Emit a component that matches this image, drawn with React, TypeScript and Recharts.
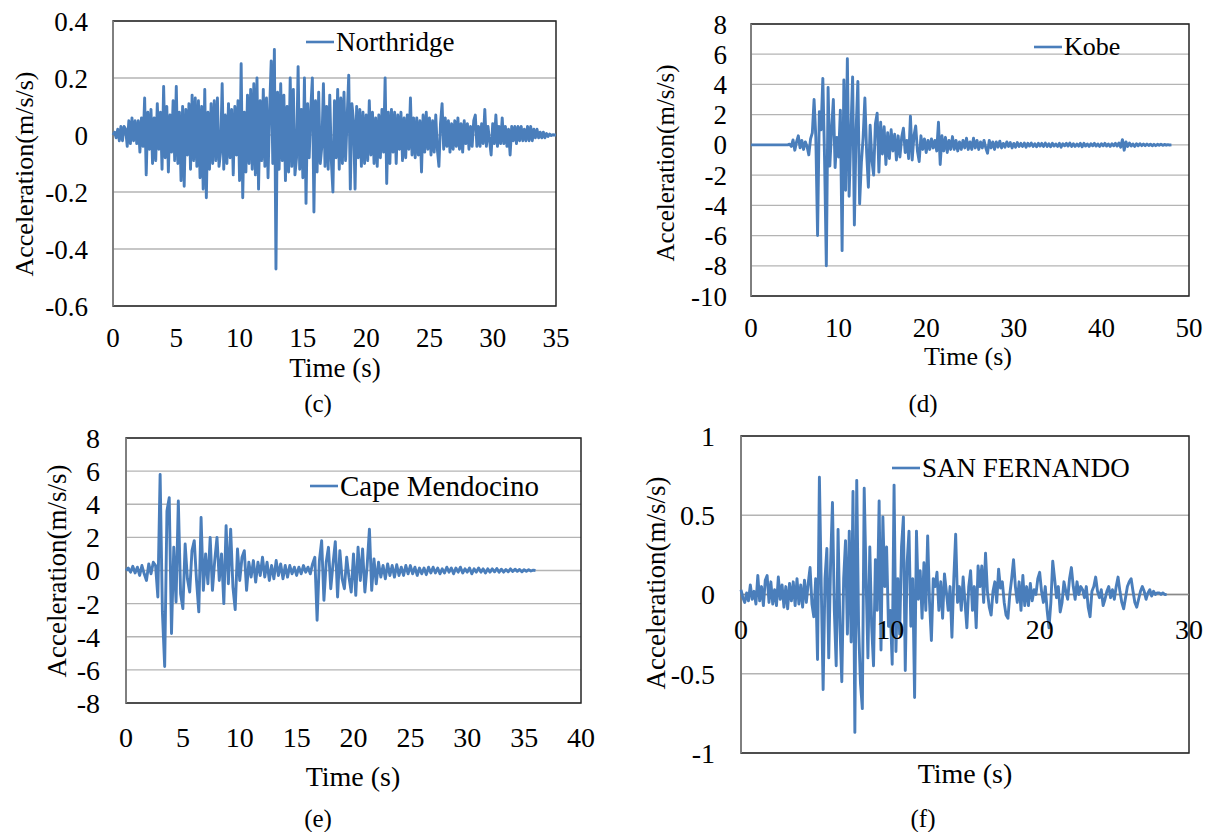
import {
  LineChart, Line, XAxis, YAxis, CartesianGrid, ReferenceArea, ReferenceLine, ReferenceDot, Legend,
} from 'recharts'

const SERIF = '"Liberation Serif", "Times New Roman", serif'
const BLUE = '#4a7ebb'

// (c) Northridge, one sample every 0.125 s, one row per second
const northridgeDt = 0.125
const northridgeAcc = [
  0, .01, -.01, .02, -.02, .03, -.02, .03,
  .02, -.04, .05, -.03, .06, -.02, .05, -.03,
  .05, -.06, .06, -.04, .13, -.14, .08, -.05,
  .09, -.10, .06, -.09, .11, -.05, .08, -.12,
  .17, -.08, .10, -.13, .07, -.06, .12, -.09,
  .17, -.10, .08, -.16, .10, -.18, .09, -.07,
  .11, -.12, .14, -.09, .13, -.11, .12, -.15,
  .10, -.19, .16, -.22, .08, -.12, .11, -.10,
  .12, -.09, .13, -.11, -.06, .18, -.12, .07,
  -.10, .11, -.08, .09, -.14, .10, -.07, .12,
  -.16, .25, -.22, .08, -.13, .14, -.10, .16,
  -.12, .18, -.14, .20, -.19, .12, -.09, .16,
  -.11, .13, -.15, .09, .26, -.10, .30, -.47,
  .15, -.12, .18, -.09, .14, -.16, .10, -.13,
  .20, -.11, .16, -.14, -.08, .24, -.12, .09,
  -.15, .20, -.24, .11, -.08, .09, .20, -.27,
  .12, -.13, .15, -.10, -.04, .18, -.11, .10,
  -.12, .14, -.09, -.20, .12, -.08, .16, -.12,
  .13, -.10, .15, -.09, .06, .21, -.19, .11,
  .05, -.19, .10, -.08, .09, -.11, .08, -.10,
  .07, -.09, .12, -.07, .08, -.10, .06, -.11,
  .07, -.08, .09, -.06, .20, -.17, .08, -.10,
  .09, -.06, .08, -.10, .07, -.05, .08, -.09,
  .06, -.08, .07, -.05, .13, -.07, .06, -.08,
  .06, -.07, .05, -.13, .07, -.06, .08, -.05,
  .06, -.07, .05, -.06, .07, -.05, -.11, .04,
  .11, -.05, .06, -.04, .05, -.06, .04, -.05,
  .05, -.04, .06, -.05, .04, -.06, .05, -.03,
  .04, -.05, .03, -.04, .05, .07, -.04, .03,
  -.04, .04, -.03, .09, -.04, .03, -.02, -.07,
  .04, -.03, .07, -.04, .03, -.03, .06, -.03,
  .03, -.04, .02, -.07, .03, -.02, .03, -.03,
  .03, -.02, .03, -.02, .02, -.02, .03, -.02,
  .03, -.02, .02, -.01, .02, -.01, .01, -.01,
  .01, -.01, .005, -.005, .003, -.002, .001, 0,
  0,
]
const northridgeTimeTicks = [0, 5, 10, 15, 20, 25, 30, 35]
const northridgeAccTicks = [-0.6, -0.4, -0.2, 0, 0.2, 0.4]

// (d) Kobe, one sample every 0.2 s
const kobeDt = 0.2
const kobeAcc = [
  0, 0, 0, 0, 0,
  0, 0, 0, 0, 0,
  0, 0, 0, 0, 0,
  0, 0, 0, 0, 0,
  0, 0, .05, -.1, .33,
  -.35, .2, .6, -.2, .3,
  -.3, .2, -.1, -.66, .4,
  .8, 3.0, .5, -6.0, 2.2,
  1.0, 4.4, -1.0, -8.0, 3.8,
  -1.4, 1.0, 3.0, -1.5, .5,
  -.8, 2.3, -7.0, 4.3, -3.0,
  5.7, -3.4, .8, 4.5, -5.3,
  1.0, 4.2, -3.9, -1.2, .5,
  3.1, -.5, -2.8, 1.3, -1.0,
  -2.0, 1.4, 2.1, -1.8, 1.5,
  -.6, 1.2, -1.3, .8, -.9,
  1.0, -.4, .7, -1.0, .6,
  -.8, .5, 1.1, -.5, .3,
  -.9, 1.9, -1.0, .6, 1.25,
  -.4, -1.1, .6, -.3, .4,
  -.5, .3, -.3, .4, -.2,
  .3, -.4, 1.5, -1.3, .6,
  -.4, .5, -.5, .3, -.3,
  .55, -.3, .3, -.4, .2,
  -.3, .3, -.2, .44, -.3,
  .2, -.3, .44, -.2, .3,
  -.3, .2, -.2, .3, -.2,
  -.55, .3, -.2, .2, -.3,
  .2, -.15, .25, -.2, .1,
  -.15, .2, -.1, .15, -.2,
  .1, -.15, .15, -.1, .1,
  -.1, .12, -.15, .1, -.08,
  .12, -.1, .08, -.12, .1,
  -.08, .1, -.1, .12, -.1,
  .08, -.12, .1, -.08, .06,
  -.1, .1, -.15, .08, -.06,
  .1, -.08, .12, -.1, .08,
  -.1, .06, -.08, .1, -.12,
  .1, -.08, .06, -.1, .08,
  -.06, .1, -.08, .06, -.1,
  .08, -.06, .1, -.08, .06,
  -.1, .08, -.06, .1, -.08,
  .12, -.15, .35, -.35, .2,
  -.1, .12, -.08, .06, -.1,
  .08, -.06, .08, -.05, .06,
  -.05, .06, -.04, .05, -.06,
  .04, -.05, .04, -.03, .04,
  -.03, .03, -.02, .02, -.01,
  0,
]
const kobeTimeTicks = [0, 10, 20, 30, 40, 50]
const kobeAccTicks = [-10, -8, -6, -4, -2, 0, 2, 4, 6, 8]

// (e) Cape Mendocino, one sample every 0.2 s
const capeDt = 0.2
const capeAcc = [
  0, .15, -.1, .25, -.15,
  .2, -.3, .3, -.2, -.6,
  .4, -.2, .5, .3, -1.6,
  5.8, -2.5, -5.8, 3.6, 4.4,
  -3.8, 1.4, -1.9, 4.2, -1.4,
  -2.3, 1.6, -.5, -1.3, 1.2,
  1.8, -.6, -2.5, 3.2, -1.2,
  1.0, -.8, 2.0, -1.2, .6,
  2.0, -.6, 1.0, -2.0, 2.7,
  -.8, 2.5, -1.0, -2.36, 1.3,
  -.6, .8, 1.2, -1.2, .5,
  -.4, .6, -.7, .5, -.3,
  .8, -.4, .5, -.6, .3,
  -.5, .6, -.3, .4, -.5,
  .3, -.4, .3, -.2, .2,
  -.3, .2, -.2, .3, -.1,
  .2, -.2, .4, .8, -3.0,
  .6, 1.8, -1.8, .5, 1.4,
  -1.1, .4, 1.74, -1.6, 1.2,
  -.5, -1.1, .8, -.4, -1.3,
  1.0, -1.5, 1.4, -.6, 1.3,
  -1.3, .3, 2.5, -1.2, .7,
  -.8, .5, -.4, .3, -.5,
  .4, -.3, .3, -.4, .35,
  -.3, .2, -.3, .3, -.2,
  .3, -.2, .2, -.3, .15,
  -.2, .15, -.25, .2, -.15,
  .2, -.15, .15, -.2, .1,
  -.15, .2, -.1, .15, -.2,
  .15, -.1, .2, -.15, .1,
  -.1, .15, -.2, .1, -.1,
  .15, -.1, .1, -.15, .1,
  -.1, .1, -.08, .12, -.1,
  .08, -.1, .06, -.08, .1,
  -.06, .08, -.05, .06, -.08,
  .05, -.04, .05, -.03, .02,
  0,
]
const capeTimeTicks = [0, 5, 10, 15, 20, 25, 30, 35, 40]
const capeAccTicks = [-8, -6, -4, -2, 0, 2, 4, 6, 8]

// (f) San Fernando, one sample every 0.125 s
const sanFernandoDt = 0.125
const sanFernandoAcc = [
  .03, -.02, -.05, .01, -.04, .06, -.03, .02,
  -.06, .12, -.04, .05, -.07, .09, .12, -.05,
  .08, -.06, .03, -.07, .11, -.03, .06, -.08,
  .05, -.09, .07, -.04, .08, -.07, .10, -.06,
  .06, -.08, .09, -.05, .07, .17, -.06, -.14,
  .10, -.41, .74, .05, -.60, .10, .29, -.40,
  .20, .58, -.10, -.45, .41, -.20, -.55, .10,
  .34, -.25, .40, -.30, .65, -.87, .72, -.20,
  -.56, -.72, .67, .10, -.40, .30, -.20, -.45,
  .22, -.10, .59, -.35, .49, .05, .30, -.20,
  -.10, -.44, .69, -.36, .10, -.25, .30, .49,
  -.48, .20, .40, -.20, .10, -.65, .40, -.03,
  .15, -.15, .20, -.10, .37, -.05, -.29, .10,
  .05, .14, -.10, .08, -.15, .13, .02, -.10,
  .05, -.27, .10, .38, -.05, .05, -.10, .11,
  -.05, -.21, .05, .15, -.10, .05, -.21, .18,
  .05, .18, -.05, .26, .02, -.08, -.13, .02,
  .08, -.05, .16, .04, .08, -.05, -.13, -.15,
  .00, .10, .22, .05, -.05, .08, -.10, .12,
  -.07, .05, -.07, .07, -.04, .03, .00, .10,
  .14, .02, -.05, .05, -.10, -.21, -.05, .21,
  .10, -.02, .05, -.11, -.05, .08, .02, -.03,
  .10, .17, .05, -.03, .08, .00, .05, .03,
  -.02, .05, -.08, -.14, .02, .05, .11, .02,
  -.02, .03, -.07, -.03, .02, .05, -.02, .03,
  -.03, .05, .11, .02, -.05, -.09, -.02, .05,
  .08, .10, .02, -.05, -.08, -.03, .02, .05,
  .02, -.03, .01, .03, -.01, .02, .00, .01,
  .01, .00, .01, .00, .00,
]
const sanFernandoTimeTicks = [0, 10, 20, 30]
const sanFernandoAccTicks = [-1, -0.5, 0, 0.5, 1]

const toPoints = (acc: number[], dt: number) =>
  acc.map((a, i) => ({ t: +(i * dt).toFixed(3), a }))

// room round the plot box so that edge tick labels are not clipped
const PAD_L = 90
const PAD_T = 30
const PAD_R = 30
const PAD_B = 60

type Box = { left: number; top: number; width: number; height: number }

type PanelProps = {
  name: string
  acc: number[]
  dt: number
  xTicks: number[]
  yTicks: number[]
  box: Box
  tickFont: number
  yGap: number
  xGap: number
  legend: { x: number; y: number; font: number }
  zeroAxis?: boolean
}

function Panel({ name, acc, dt, xTicks, yTicks, box, tickFont, yGap, xGap, legend, zeroAxis }: PanelProps) {
  const data = toPoints(acc, dt)
  const x0 = xTicks[0]
  const x1 = xTicks[xTicks.length - 1]
  const y0 = yTicks[0]
  const y1 = yTicks[yTicks.length - 1]
  const chartLeft = box.left - PAD_L
  const chartTop = box.top - PAD_T
  const tick = { fontSize: tickFont, fill: '#000', fontFamily: SERIF }
  return (
    <div style={{ position: 'absolute', left: chartLeft, top: chartTop }}>
      <LineChart
        width={box.width + PAD_L + PAD_R}
        height={box.height + PAD_T + PAD_B}
        data={data}
        margin={{ top: PAD_T, right: PAD_R, left: 0, bottom: zeroAxis ? PAD_B : 0 }}
        style={{ overflow: 'visible' }}
      >
        <CartesianGrid vertical={false} stroke="#b4b4b4" strokeWidth={1.3} />
        <XAxis
          type="number" dataKey="t" domain={[x0, x1]} ticks={xTicks} interval={0}
          hide={zeroAxis} height={PAD_B} axisLine={false} tickLine={false}
          tickSize={0} tickMargin={xGap} tick={tick}
        />
        <YAxis
          type="number" domain={[y0, y1]} ticks={yTicks} interval={0} width={PAD_L}
          axisLine={false} tickLine={false} tickSize={0} tickMargin={yGap} tick={tick}
        />
        <ReferenceArea x1={x0} x2={x1} y1={y0} y2={y1} fill="none" fillOpacity={0} stroke="#262626" strokeWidth={1.5} />
        <ReferenceLine x={x0} stroke="#8a8a8a" strokeWidth={1.6} />
        {zeroAxis && <ReferenceLine y={0} stroke="#8a8a8a" strokeWidth={1.5} />}
        <Line
          type="linear" dataKey="a" name={name} stroke={BLUE} strokeWidth={2.9}
          dot={false} activeDot={false} isAnimationActive={false} strokeLinejoin="round"
        />
        {zeroAxis && xTicks.map((t) => (
          <ReferenceDot
            key={t} x={t} y={0} r={0} fill="none" stroke="none"
            label={{ value: String(t), position: 'bottom', offset: 25, fontSize: tickFont, fill: '#000', fontFamily: SERIF }}
          />
        ))}
        <Legend
          layout="horizontal" verticalAlign="middle" align="center"
          wrapperStyle={{ left: legend.x - chartLeft, top: legend.y - chartTop - legend.font / 2, width: 'auto' }}
          content={() => (
            <div style={{ display: 'flex', alignItems: 'center', height: legend.font, lineHeight: `${legend.font}px`, fontFamily: SERIF, fontSize: legend.font, color: '#000', whiteSpace: 'nowrap' }}>
              <svg width={28} height={6}><line x1={0} y1={3} x2={28} y2={3} stroke={BLUE} strokeWidth={2.6} /></svg>
              <span style={{ marginLeft: 2 }}>{name}</span>
            </div>
          )}
        />
      </LineChart>
    </div>
  )
}

function Caption({ x, y, size, children, rotate }: { x: number; y: number; size: number; children: string; rotate?: boolean }) {
  return (
    <div
      style={{
        position: 'absolute', left: x, top: y, fontFamily: SERIF, fontSize: size, lineHeight: 1,
        color: '#000', whiteSpace: 'nowrap',
        transform: `translate(-50%, -50%)${rotate ? ' rotate(-90deg)' : ''}`,
      }}
    >
      {children}
    </div>
  )
}

export default function App() {
  return (
    <div style={{ position: 'absolute', left: 0, top: 0, width: 1212, height: 832, background: '#fff', overflow: 'hidden' }}>
      <Panel
        name="Northridge" acc={northridgeAcc} dt={northridgeDt}
        xTicks={northridgeTimeTicks} yTicks={northridgeAccTicks}
        box={{ left: 113, top: 21, width: 443, height: 285 }}
        tickFont={27} yGap={25} xGap={22}
        legend={{ x: 306, y: 42, font: 27 }}
      />
      <Caption x={25} y={174} size={26} rotate>Acceleration(m/s/s)</Caption>
      <Caption x={335} y={368} size={27}>Time (s)</Caption>
      <Caption x={318} y={403} size={25}>(c)</Caption>

      <Panel
        name="Kobe" acc={kobeAcc} dt={kobeDt}
        xTicks={kobeTimeTicks} yTicks={kobeAccTicks}
        box={{ left: 751, top: 24, width: 438, height: 272 }}
        tickFont={27} yGap={24} xGap={22}
        legend={{ x: 1034, y: 47, font: 26 }}
      />
      <Caption x={665} y={163} size={25} rotate>Acceleration(m/s/s)</Caption>
      <Caption x={968} y={357} size={26}>Time (s)</Caption>
      <Caption x={923} y={403} size={25}>(d)</Caption>

      <Panel
        name="Cape Mendocino" acc={capeAcc} dt={capeDt}
        xTicks={capeTimeTicks} yTicks={capeAccTicks}
        box={{ left: 126, top: 438, width: 455, height: 265 }}
        tickFont={28} yGap={26} xGap={24}
        legend={{ x: 310, y: 486, font: 29 }}
      />
      <Caption x={57} y={571} size={27} rotate>Acceleration(m/s/s)</Caption>
      <Caption x={353} y={777} size={28}>Time (s)</Caption>
      <Caption x={318} y={818} size={25}>(e)</Caption>

      <Panel
        name="SAN FERNANDO" acc={sanFernandoAcc} dt={sanFernandoDt}
        xTicks={sanFernandoTimeTicks} yTicks={sanFernandoAccTicks}
        box={{ left: 741, top: 436, width: 448, height: 317 }}
        tickFont={28} yGap={26} xGap={24}
        legend={{ x: 892, y: 468, font: 27 }}
        zeroAxis
      />
      <Caption x={656} y={583} size={27} rotate>Acceleration(m/s/s)</Caption>
      <Caption x={965} y={774} size={28}>Time (s)</Caption>
      <Caption x={923} y={818} size={25}>(f)</Caption>
    </div>
  )
}
